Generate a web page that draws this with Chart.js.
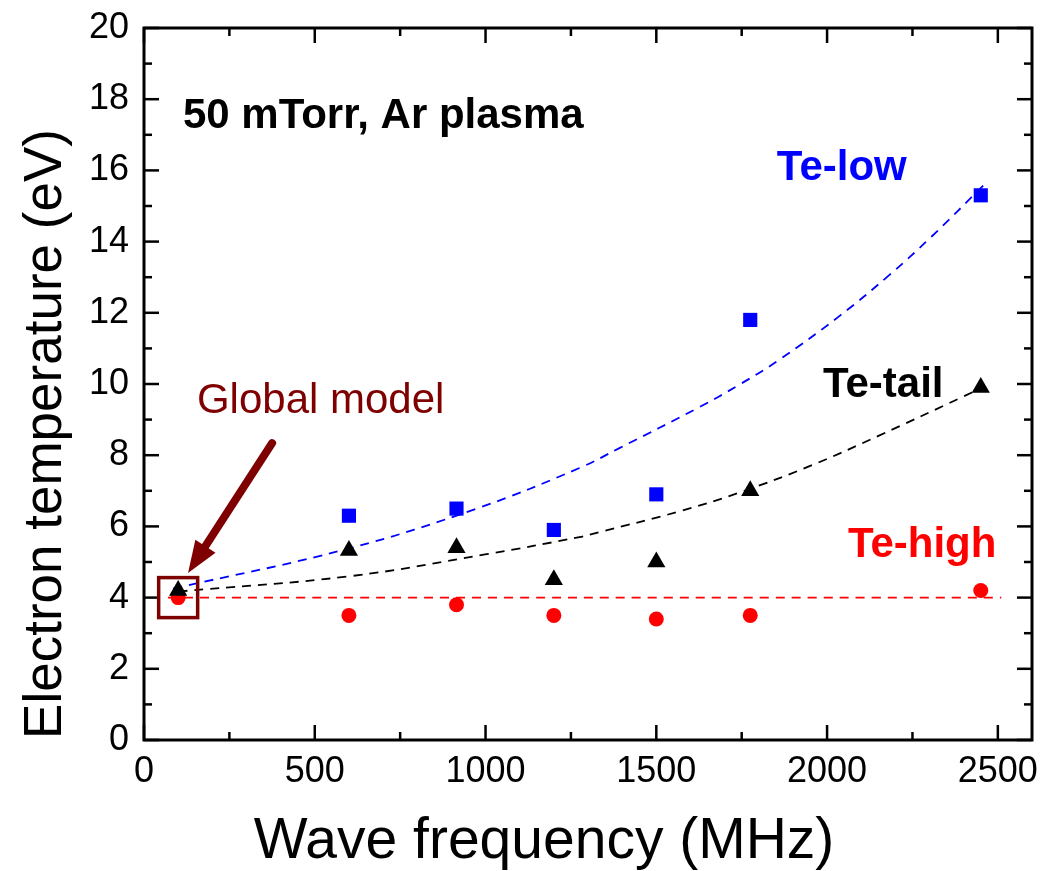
<!DOCTYPE html>
<html>
<head>
<meta charset="utf-8">
<script src="https://cdn.jsdelivr.net/npm/chart.js@4.4.1/dist/chart.umd.min.js"></script>
<style>
  html, body { margin: 0; padding: 0; background: #fff; }
  #wrap { width: 1044px; height: 871px; }
</style>
</head>
<body>
<div id="wrap"><canvas id="chart" width="1044" height="871"></canvas></div>
<script>
// measured points (MHz, eV)
const freqs  = [100, 600, 915, 1200, 1500, 1775, 2450];
const teLow  = [null, 6.3, 6.5, 5.9, 6.9, 11.8, 15.3];
const teTail = [4.2, 5.32, 5.4, 4.5, 5.0, 7.0, 9.9];
const teHigh = [4.0, 3.5, 3.8, 3.5, 3.4, 3.5, 4.2];

// dashed trend lines
const lowFitX  = [85, 600, 980, 1275, 1392, 1626, 1743, 1860, 2035, 2181, 2307, 2460];
const lowFitY  = [4.25, 5.38, 6.52, 7.64, 8.2, 9.35, 9.98, 10.68, 11.9, 13.05, 14.15, 15.6];
const tailFitX = [100, 602, 1003, 1275, 1333, 1567, 1743, 1956, 2152, 2395, 2450];
const tailFitY = [4.17, 4.6, 5.22, 5.7, 5.84, 6.42, 6.95, 7.72, 8.55, 9.63, 9.88];
const highFitX = [70, 2510];
const highFitY = [4.0, 4.0];

// axis ticks
const xMajor = [0, 500, 1000, 1500, 2000, 2500];
const xMinor = [250, 750, 1250, 1750, 2250];
const yMajor = [0, 2, 4, 6, 8, 10, 12, 14, 16, 18, 20];
const yMinor = [1, 3, 5, 7, 9, 11, 13, 15, 17, 19];

const DARKRED = '#7f0000';
const FONT = '"Liberation Sans", Arial, sans-serif';

const pts = (xs, ys) => xs.map((x, i) => ({x: x, y: ys[i]})).filter(p => p.y !== null);

const lineSet = (xs, ys, color) => ({
    type: 'line',
    data: pts(xs, ys),
    borderColor: color,
    borderWidth: 1.8,
    borderDash: [9, 7],
    pointRadius: 0,
    fill: false,
    tension: 0.4,
    order: 5
});

// frame, inward ticks, axis titles and the text notes
const framePlugin = {
    id: 'frame',
    afterDraw(chart) {
        const {ctx, chartArea: a, scales: {x, y}} = chart;
        ctx.save();
        ctx.strokeStyle = '#000';
        ctx.lineWidth = 2.5;
        const seg = (x1, y1, x2, y2) => { ctx.beginPath(); ctx.moveTo(x1, y1); ctx.lineTo(x2, y2); ctx.stroke(); };
        xMajor.concat(xMinor).forEach(v => {
            const px = x.getPixelForValue(v);
            const len = xMajor.includes(v) ? 15 : 8;
            seg(px, a.bottom, px, a.bottom - len);
            seg(px, a.top, px, a.top + len);
        });
        yMajor.concat(yMinor).forEach(v => {
            const py = y.getPixelForValue(v);
            const len = yMajor.includes(v) ? 15 : 8;
            seg(a.left, py, a.left + len, py);
            seg(a.right, py, a.right - len, py);
        });
        ctx.lineWidth = 3;
        ctx.strokeRect(a.left, a.top, a.right - a.left, a.bottom - a.top);

        // axis titles (they sit a bit off-centre in the original)
        ctx.fillStyle = '#000';
        ctx.textAlign = 'center';
        ctx.textBaseline = 'alphabetic';
        ctx.font = '57px ' + FONT;
        ctx.fillText('Wave frequency (MHz)', 544, 858);
        ctx.save();
        ctx.translate(61, 434);
        ctx.rotate(-Math.PI / 2);
        ctx.font = '53px ' + FONT;
        ctx.fillText('Electron temperature (eV)', 0, 0);
        ctx.restore();

        // text notes
        const note = (txt, vx, vy, color, bold) => {
            ctx.font = (bold ? 'bold ' : '') + '42px ' + FONT;
            ctx.fillStyle = color;
            ctx.textAlign = 'left';
            ctx.textBaseline = 'alphabetic';
            ctx.fillText(txt, x.getPixelForValue(vx), y.getPixelForValue(vy));
        };
        note('50 mTorr, Ar plasma', 114, 17.19, '#000', true);
        note('Te-low', 1853, 15.73, '#0000ff', true);
        note('Te-tail', 1988, 9.63, '#000', true);
        note('Te-high', 2061, 5.14, '#ff0000', true);
        note('Global model', 155, 9.19, DARKRED, false);

        // box around the global model point
        const bx = x.getPixelForValue(freqs[0]);
        const by = y.getPixelForValue(teHigh[0]);
        ctx.strokeStyle = DARKRED;
        ctx.lineWidth = 3.5;
        ctx.strokeRect(bx - 19.5, by - 20, 39, 40);

        // arrow
        const sx = x.getPixelForValue(375), sy = y.getPixelForValue(8.34);
        const tx = x.getPixelForValue(129), ty = y.getPixelForValue(4.69);
        const ang = Math.atan2(ty - sy, tx - sx);
        const head = 32, half = 12;
        const bxh = tx - head * Math.cos(ang), byh = ty - head * Math.sin(ang);
        ctx.lineWidth = 8;
        ctx.lineCap = 'round';
        seg(sx, sy, bxh, byh);
        ctx.fillStyle = DARKRED;
        ctx.beginPath();
        ctx.moveTo(tx, ty);
        ctx.lineTo(bxh + half * Math.sin(ang), byh - half * Math.cos(ang));
        ctx.lineTo(bxh - half * Math.sin(ang), byh + half * Math.cos(ang));
        ctx.closePath();
        ctx.fill();
        ctx.restore();
    }
};

Chart.defaults.font.family = FONT;
Chart.defaults.color = '#000';

new Chart(document.getElementById('chart'), {
    type: 'scatter',
    data: {
        datasets: [
            {
                label: 'Te-tail',
                data: pts(freqs, teTail),
                pointStyle: 'triangle',
                pointRadius: 10.5,
                pointHoverRadius: 10.5,
                backgroundColor: '#000',
                borderColor: '#000',
                borderWidth: 0,
                order: 1
            },
            {
                label: 'Te-low',
                data: pts(freqs, teLow),
                pointStyle: 'rect',
                pointRadius: 10,
                pointHoverRadius: 10,
                backgroundColor: '#0000ff',
                borderColor: '#0000ff',
                borderWidth: 0,
                order: 2
            },
            {
                label: 'Te-high',
                data: pts(freqs, teHigh),
                pointStyle: 'circle',
                pointRadius: 7.5,
                pointHoverRadius: 7.5,
                backgroundColor: '#ff0000',
                borderColor: '#ff0000',
                borderWidth: 0,
                order: 3
            },
            lineSet(lowFitX, lowFitY, '#0000ff'),
            lineSet(tailFitX, tailFitY, '#000'),
            lineSet(highFitX, highFitY, '#ff0000')
        ]
    },
    options: {
        responsive: false,
        animation: false,
        layout: { padding: { left: 0, right: 12, top: 28, bottom: 0 } },
        plugins: {
            legend: { display: false },
            tooltip: { enabled: false }
        },
        scales: {
            x: {
                type: 'linear',
                min: 0,
                max: 2600,
                grid: { display: false, drawTicks: false },
                border: { display: false },
                afterBuildTicks: s => { s.ticks = xMajor.map(v => ({value: v})); },
                afterFit: s => { s.height = 131; s.paddingLeft = 0; s.paddingRight = 0; },
                ticks: { font: { size: 36 }, color: '#000', padding: 10, maxRotation: 0, autoSkip: false,
                         callback: v => String(v) }
            },
            y: {
                min: 0,
                max: 20,
                grid: { display: false, drawTicks: false },
                border: { display: false },
                afterBuildTicks: s => { s.ticks = yMajor.map(v => ({value: v})); },
                afterFit: s => { s.width = 144; s.paddingTop = 0; s.paddingBottom = 0; },
                ticks: { font: { size: 36 }, color: '#000', padding: 15, autoSkip: false,
                         callback: v => String(v) }
            }
        }
    },
    plugins: [framePlugin]
});
</script>
</body>
</html>
